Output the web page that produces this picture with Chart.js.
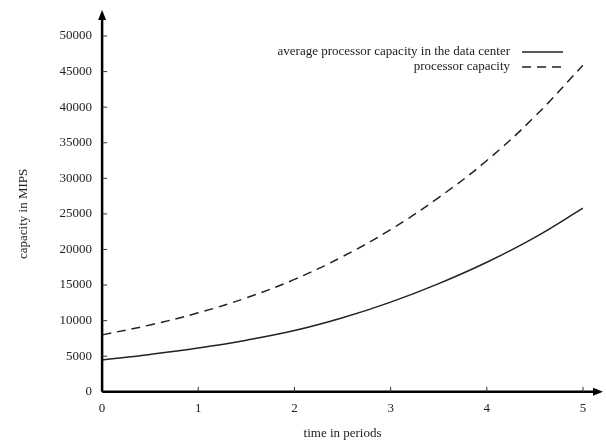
<!DOCTYPE html>
<html>
<head>
<meta charset="utf-8">
<script src="https://cdn.jsdelivr.net/npm/chart.js@4/dist/chart.umd.min.js"></script>
<style>
  html, body { margin: 0; padding: 0; background: #fff; }
  #wrap { width: 606px; height: 441px; }
</style>
</head>
<body>
<div id="wrap"><canvas id="chart"></canvas></div>
<script>
// values (every half period)
const periods = [0, 0.5, 1, 1.5, 2, 2.5, 3, 3.5, 4, 4.5, 5];
const avgCapacity = [4480, 5250, 6150, 7250, 8600, 10400, 12600, 15200, 18200, 21700, 25800];
const procCapacity = [8000, 9400, 11100, 13200, 15800, 19000, 22800, 27300, 32500, 38700, 45900];
const xTicks = [0, 1, 2, 3, 4, 5];
const yTicks = [0, 5000, 10000, 15000, 20000, 25000, 30000, 35000, 40000, 45000, 50000];
const seriesNames = ['average processor capacity in the data center', 'processor capacity'];

const FONT = 'Liberation Serif';
const INK = '#222';

function toPoints(xs, ys) {
    return xs.map((x, i) => ({ x: x, y: ys[i] }));
}

// axes with arrows, inward ticks and the gnuplot-style legend
const gnuplotLook = {
    id: 'gnuplotLook',
    afterDraw(chart) {
        const ctx = chart.ctx;
        const xs = chart.scales.x;
        const ys = chart.scales.y;
        const x0 = xs.getPixelForValue(0);
        const y0 = ys.getPixelForValue(0);
        const xEnd = chart.width - 3;
        const yEnd = 10;

        ctx.save();
        ctx.strokeStyle = '#000';
        ctx.fillStyle = '#000';
        ctx.lineWidth = 2.5;
        ctx.beginPath();
        ctx.moveTo(x0, y0);
        ctx.lineTo(xEnd - 6, y0);
        ctx.moveTo(x0, y0);
        ctx.lineTo(x0, yEnd + 6);
        ctx.stroke();

        // arrow heads
        ctx.beginPath();
        ctx.moveTo(xEnd, y0);
        ctx.lineTo(xEnd - 10, y0 - 4);
        ctx.lineTo(xEnd - 10, y0 + 4);
        ctx.closePath();
        ctx.fill();
        ctx.beginPath();
        ctx.moveTo(x0, yEnd);
        ctx.lineTo(x0 - 4, yEnd + 10);
        ctx.lineTo(x0 + 4, yEnd + 10);
        ctx.closePath();
        ctx.fill();

        // inward tick marks
        ctx.lineWidth = 1;
        ctx.strokeStyle = '#333';
        ctx.beginPath();
        xTicks.forEach(v => {
            if (v === 0) return;
            const px = xs.getPixelForValue(v);
            ctx.moveTo(px, y0);
            ctx.lineTo(px, y0 - 5);
        });
        yTicks.forEach(v => {
            if (v === 0) return;
            const py = ys.getPixelForValue(v);
            ctx.moveTo(x0, py);
            ctx.lineTo(x0 + 5, py);
        });
        ctx.stroke();

        // legend
        ctx.font = '13px "' + FONT + '"';
        ctx.textAlign = 'right';
        ctx.textBaseline = 'middle';
        const textRight = 510;
        const lineL = 522, lineR = 563;
        chart.data.datasets.forEach((ds, i) => {
            const ly = 52 + i * 15;
            ctx.fillStyle = INK;
            ctx.fillText(ds.label, textRight, ly);
            ctx.strokeStyle = INK;
            ctx.lineWidth = 1.5;
            ctx.setLineDash(ds.borderDash || []);
            ctx.beginPath();
            ctx.moveTo(lineL, ly);
            ctx.lineTo(lineR, ly);
            ctx.stroke();
            ctx.setLineDash([]);
        });
        ctx.restore();
    }
};

new Chart(document.getElementById('chart'), {
    type: 'line',
    data: {
        datasets: [
            {
                label: seriesNames[0],
                data: toPoints(periods, avgCapacity),
                borderColor: INK,
                borderWidth: 1.5,
                pointRadius: 0,
                tension: 0.4,
                fill: false
            },
            {
                label: seriesNames[1],
                data: toPoints(periods, procCapacity),
                borderColor: INK,
                borderWidth: 1.5,
                borderDash: [9, 6],
                pointRadius: 0,
                tension: 0.4,
                fill: false
            }
        ]
    },
    options: {
        responsive: true,
        maintainAspectRatio: false,
        animation: false,
        layout: { padding: { top: 36, right: 23, left: 16, bottom: 0 } },
        plugins: {
            legend: { display: false },
            tooltip: { enabled: false }
        },
        scales: {
            x: {
                type: 'linear',
                min: 0,
                max: 5,
                afterBuildTicks: scale => { scale.ticks = xTicks.map(v => ({ value: v })); },
                grid: { display: false, drawTicks: false },
                border: { display: false },
                ticks: {
                    color: INK,
                    padding: 9,
                    callback: v => String(v),
                    font: { family: FONT, size: 13 }
                },
                title: {
                    display: true,
                    text: 'time in periods',
                    color: INK,
                    padding: { top: 0, bottom: 0 },
                    font: { family: FONT, size: 13 }
                }
            },
            y: {
                min: 0,
                max: 50000,
                afterBuildTicks: scale => { scale.ticks = yTicks.map(v => ({ value: v })); },
                grid: { display: false, drawTicks: false },
                border: { display: false },
                ticks: {
                    color: INK,
                    padding: 10,
                    callback: v => String(v),
                    font: { family: FONT, size: 13 }
                },
                title: {
                    display: true,
                    text: 'capacity in MIPS',
                    color: INK,
                    padding: { top: 0, bottom: 18 },
                    font: { family: FONT, size: 13 }
                }
            }
        }
    },
    plugins: [gnuplotLook]
});
</script>
</body>
</html>
